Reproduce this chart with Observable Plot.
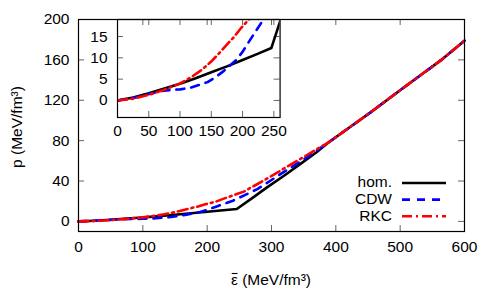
<!DOCTYPE html>
<html><head><meta charset="utf-8">
<script src="https://cdn.jsdelivr.net/npm/d3@7"></script>
<script src="https://cdn.jsdelivr.net/npm/@observablehq/plot@0.6"></script>
<style>
body{margin:0;background:#fff}
#c{position:relative;width:500px;height:300px;overflow:hidden}
#c svg{position:absolute;overflow:visible}
</style>
</head><body><div id="c"></div>
<script>
// ---- data ----
const seriesNames = ["hom.", "CDW", "RKC"];
const homEps = [0,25,50,75,100,125,150,175,200,225,246,270,293,320,345,370,389,420,454,500,530,563,600];
const homP   = [0,0.7,1.7,2.8,3.9,5.2,6.6,8.0,9.5,11.0,12.3,23,33.7,45.5,57,68.5,78.4,92.5,108,130,144,159.5,179];
const cdwEps = [0,25,50,70,88,100,117,130,144,156,168,180,189,200,208,216,224,240,260,278,300,324,355,389,420,454,500,530,563,600];
const cdwP   = [0,0.6,1.5,2.2,2.5,2.6,3.0,3.6,4.3,5.4,6.7,8.2,9.4,11.4,13.3,15.1,16.9,20.5,26.5,32,41,51,63.5,78.4,92.5,108,130,144,159.5,179];
const rkcEps = [0,25,50,75,100,117,133,149,162,176,187,197,213,230,257,285,314,345,389,420,454,500,530,563,600];
const rkcP   = [0,0.4,1.3,2.5,4.0,5.4,7.0,9.0,11.0,13.3,15.0,16.9,19.5,23.5,29.5,39.5,50.3,62,78.4,92.5,108,130,144,159.5,179];

const mainXTicks = [0,100,200,300,400,500,600];
const mainYTicks = [0,40,80,120,160,200];
const insetXTicks = [0,50,100,150,200,250];
const insetYTicks = [0,5,10,15];

const toRows = (eps, p) => eps.map((e, i) => ({eps: e, p: p[i]}));
const hom = toRows(homEps, homP);
const cdw = toRows(cdwEps, cdwP);
const rkc = toRows(rkcEps, rkcP);

const styles = {
  "hom.": {stroke: "#000000", strokeWidth: 2.6},
  "CDW":  {stroke: "#0000ff", strokeWidth: 2.6, strokeDasharray: "8,7"},
  "RKC":  {stroke: "#ff0000", strokeWidth: 2.6, strokeDasharray: "10,4,2,4"}
};

const FONT = "'Liberation Sans', Arial, Helvetica, sans-serif";
const tickStyle = {stroke: "#666", strokeWidth: 1};
const TL = 6;

function lineMarks(clip) {
  return [
    Plot.line(hom, {x: "eps", y: "p", ...styles["hom."], clip}),
    Plot.line(cdw, {x: "eps", y: "p", ...styles["CDW"], clip}),
    Plot.line(rkc, {x: "eps", y: "p", ...styles["RKC"], clip})
  ];
}

function tickMarks(xt, yt, innerW, innerH) {
  return [
    Plot.ruleX(xt, {x: d => d, insetTop: innerH - TL, ...tickStyle}),
    Plot.ruleX(xt, {x: d => d, insetBottom: innerH - TL, ...tickStyle}),
    Plot.ruleY(yt, {y: d => d, insetRight: innerW - TL, ...tickStyle}),
    Plot.ruleY(yt, {y: d => d, insetLeft: innerW - TL, ...tickStyle})
  ];
}

const c = document.getElementById("c");

// ---- main plot ----
const W = 500, H = 300, ML = 78, MR = 36, MT = 19, MB = 69;
const innerW = W - ML - MR, innerH = H - MT - MB;
const main = Plot.plot({
  width: W, height: H, marginLeft: ML, marginRight: MR, marginTop: MT, marginBottom: MB,
  style: {fontFamily: FONT, fontSize: "15.5px", background: "transparent", color: "#000"},
  x: {domain: [0, 600]},
  y: {domain: [-10, 200]},
  marks: [
    ...tickMarks(mainXTicks, mainYTicks, innerW, innerH),
    Plot.axisX({ticks: mainXTicks, tickSize: 0, tickPadding: 9, label: null, tickFormat: d => String(d)}),
    Plot.axisY({ticks: mainYTicks, tickSize: 0, tickPadding: 9, label: null, tickFormat: d => String(d)}),
    ...lineMarks(false),
    Plot.frame({stroke: "#000", strokeWidth: 1.2})
  ]
});
main.style.left = "0px"; main.style.top = "0px";
c.appendChild(main);

// axis titles and legend (layout text)
const ms = d3.select(main);
const xt = ms.append("text").attr("x", ML + innerW / 2).attr("y", 285)
  .attr("text-anchor", "middle").attr("font-size", 15.5).attr("font-family", FONT)
  .text("ε (MeV/fm³)");
// macron over epsilon drawn as a short stroke
{
  const node = xt.node();
  const s = node.getStartPositionOfChar(0), e = node.getEndPositionOfChar(0);
  ms.append("line").attr("x1", s.x + 0.8).attr("x2", e.x - 0.3)
    .attr("y1", 285 - 11.5).attr("y2", 285 - 11.5)
    .attr("stroke", "#000").attr("stroke-width", 1.1);
}
ms.append("text").attr("transform", `translate(22,${MT + innerH / 2 + 2}) rotate(-90)`)
  .attr("text-anchor", "middle").attr("font-size", 15.5).attr("font-family", FONT)
  .text("p (MeV/fm³)");

const leg = ms.append("g");
seriesNames.forEach((name, i) => {
  const y = 182 + i * 16.6;
  leg.append("text").attr("x", 392).attr("y", y).attr("dy", "0.35em")
    .attr("text-anchor", "end").attr("font-size", 15.5).attr("font-family", FONT).text(name);
  const s = styles[name];
  leg.append("line").attr("x1", 402).attr("x2", 446).attr("y1", y + 1).attr("y2", y + 1)
    .attr("stroke", s.stroke).attr("stroke-width", s.strokeWidth)
    .attr("stroke-dasharray", s.strokeDasharray || null);
});

// ---- inset plot ----
const iL = 116.7, iT = 19.3, iR = 279.3, iB = 117.3;
const iml = 45, imr = 10, imt = 5, imb = 30;
const iInnerW = iR - iL, iInnerH = iB - iT;
const inset = Plot.plot({
  width: iInnerW + iml + imr, height: iInnerH + imt + imb,
  marginLeft: iml, marginRight: imr, marginTop: imt, marginBottom: imb,
  style: {fontFamily: FONT, fontSize: "15.5px", background: "transparent", color: "#000"},
  x: {domain: [0, 260]},
  y: {domain: [-4, 19]},
  marks: [
    ...tickMarks(insetXTicks, insetYTicks, iInnerW, iInnerH),
    Plot.axisX({ticks: insetXTicks, tickSize: 0, tickPadding: 7, label: null, tickFormat: d => String(d)}),
    Plot.axisY({ticks: insetYTicks, tickSize: 0, tickPadding: 10, label: null, tickFormat: d => String(d)}),
    ...lineMarks(true),
    Plot.frame({stroke: "#000", strokeWidth: 1.2})
  ]
});
inset.style.left = (iL - iml) + "px"; inset.style.top = (iT - imt) + "px";
c.appendChild(inset);
</script>
</body></html>
